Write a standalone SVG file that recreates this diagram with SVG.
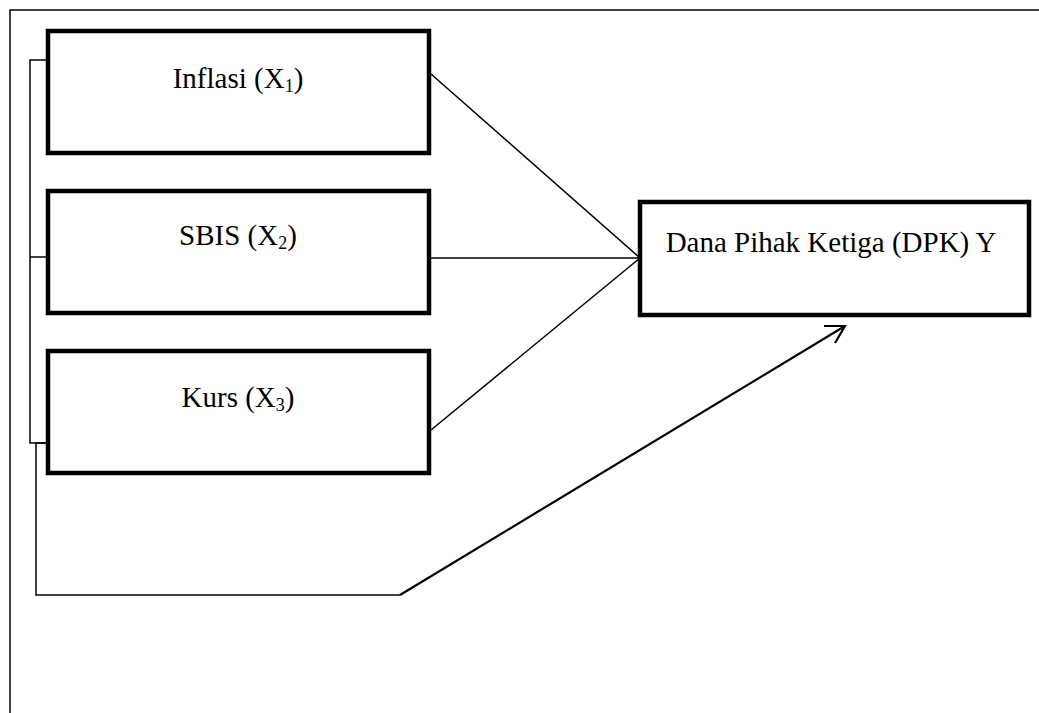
<svg xmlns="http://www.w3.org/2000/svg" width="1039" height="713" viewBox="0 0 1039 713">
<style>
.box{fill:#fff;stroke:#000;stroke-width:4.5}
.t{font-family:"Liberation Serif","Times New Roman",serif;font-size:29px;fill:#000;text-anchor:middle}
.ln{fill:none;stroke:#000;stroke-width:1.5}
.ar{fill:none;stroke:#000;stroke-width:2.2}
</style>
<rect width="1039" height="713" fill="#fff"/>
<g id="frame">
<path class="ln" d="M10 713 V10 H1039"/>
</g>
<g id="connectors">
<path class="ln" d="M48 60 H30 V443 H48"/>
<path class="ln" d="M30 257 H48"/>
<path class="ln" d="M431 74 L640 258"/>
<path class="ln" d="M431 258 L640 258"/>
<path class="ln" d="M431 430 L640 258"/>
<path class="ln" d="M48 443 H36 V595 H400"/>
<path class="ar" d="M400 595 L845 326 M824 326 L845 326 L835 343"/>
</g>
<g id="inflasi">
<rect class="box" x="48" y="31" width="381" height="122"/>
<text class="t" x="238" y="88">Inflasi (X<tspan font-size="18" dy="4">1</tspan><tspan dy="-4">)</tspan></text>
</g>
<g id="sbis">
<rect class="box" x="48" y="191" width="381" height="122"/>
<text class="t" x="238" y="245">SBIS (X<tspan font-size="18" dy="4">2</tspan><tspan dy="-4">)</tspan></text>
</g>
<g id="kurs">
<rect class="box" x="48" y="351" width="381" height="122"/>
<text class="t" x="238" y="407">Kurs (X<tspan font-size="18" dy="4">3</tspan><tspan dy="-4">)</tspan></text>
</g>
<g id="dpk">
<rect class="box" x="640" y="202" width="389" height="113"/>
<text class="t" x="831" y="252">Dana Pihak Ketiga (DPK) Y</text>
</g>
</svg>
